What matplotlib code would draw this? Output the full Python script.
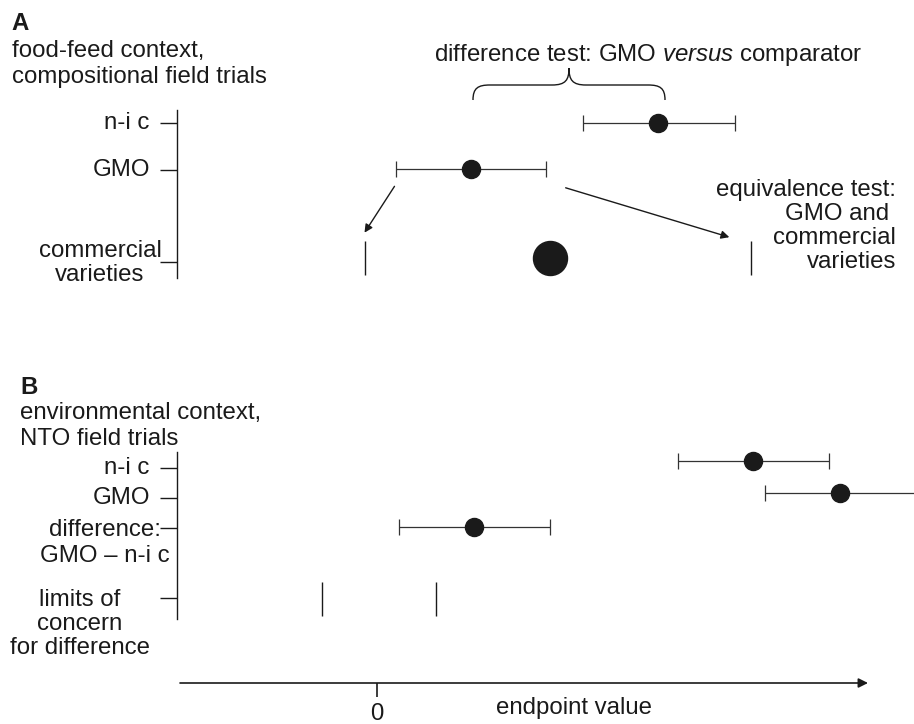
import matplotlib.pyplot as plt
from matplotlib.path import Path
from matplotlib.patches import PathPatch

plt.rcParams["font.family"] = ["Liberation Sans", "DejaVu Sans"]
plt.rcParams["mathtext.fontset"] = "custom"
plt.rcParams["mathtext.rm"] = "Liberation Sans"
plt.rcParams["mathtext.it"] = "Liberation Sans:italic"

INK = "#1a1a1a"
BAR = "#333333"
FS = 17.3
LS = 1.2

# panel A: food-feed context (endpoint value: lower, mean, upper)
a_labels = ["n-i c", "GMO", "commercial\nvarieties"]
a_nic = [4.12, 5.62, 7.16]
a_gmo = [0.38, 1.88, 3.38]
a_commercial_limits = [-0.24, 7.48]
a_commercial_mean = 3.46

# panel B: environmental context
b_labels = ["n-i c", "GMO", "difference:\nGMO \u2013 n-i c",
            "limits of\nconcern\nfor difference"]
b_nic = [6.02, 7.52, 9.04]
b_gmo = [7.76, 9.26, 10.8]
b_diff = [0.44, 1.94, 3.46]
b_limits = [-1.1, 1.18]


def px(x):
    # pixel column -> endpoint value (0 sits at column 377)
    return (x - 377) / 50


def interval(ax, vals, y):
    lo, mid, hi = vals
    ax.errorbar(mid, y, xerr=[[mid - lo], [hi - mid]], fmt="o", color=INK,
                ecolor=BAR, ms=13, capsize=6, elinewidth=0.9, capthick=0.9)


fig = plt.figure(figsize=(9.14, 7.24), dpi=100)
ax = fig.add_axes([0, 0, 1, 1])
ax.set_xlim(px(0), px(914))
ax.set_ylim(724, 0)
ax.axis("off")

# ---- panel A ----
ax.text(px(11), 23, "A", fontsize=FS, fontweight="bold", va="center", color=INK)
ax.text(px(12), 64, "food-feed context,\ncompositional field trials", fontsize=FS,
        va="center", color=INK, linespacing=LS)
ax.plot([px(177)] * 2, [110, 278], color=INK, lw=1)
a_y = [123, 170, 262]
ax.hlines(a_y, px(160), px(177), color=INK, lw=1)
ax.text(px(149), a_y[0], a_labels[0], fontsize=FS, ha="right", va="center", color=INK)
ax.text(px(150), a_y[1], a_labels[1], fontsize=FS, ha="right", va="center", color=INK)
ax.text(px(100), a_y[2] + 1, a_labels[2], fontsize=FS, ha="center", va="center",
        color=INK, linespacing=1.1)

interval(ax, a_nic, 123)
interval(ax, a_gmo, 169)
ax.vlines(a_commercial_limits, 241, 275, color=INK, lw=1)
ax.plot(a_commercial_mean, 258, "o", color=INK, ms=24.5)

ax.annotate("", xy=(px(363), 235), xytext=(a_gmo[0], 184),
            arrowprops=dict(arrowstyle="-|>", lw=1, color=INK, mutation_scale=12))
ax.annotate("", xy=(px(732), 238), xytext=(px(563), 187),
            arrowprops=dict(arrowstyle="-|>", lw=1, color=INK, mutation_scale=12))

# curly brace over the difference test
l, r, m = px(473), px(665), px(569)
d = px(490) - l
verts = [(l, 100), (l, 88), (l + d * 0.3, 85), (l + d, 85),
         (m - d, 85),
         (m - d * 0.2, 85), (m, 80), (m, 68),
         (m, 80), (m + d * 0.2, 85), (m + d, 85),
         (r - d, 85),
         (r - d * 0.3, 85), (r, 88), (r, 100)]
codes = [Path.MOVETO, Path.CURVE4, Path.CURVE4, Path.CURVE4,
         Path.LINETO,
         Path.CURVE4, Path.CURVE4, Path.CURVE4,
         Path.CURVE4, Path.CURVE4, Path.CURVE4,
         Path.LINETO,
         Path.CURVE4, Path.CURVE4, Path.CURVE4]
ax.add_patch(PathPatch(Path(verts, codes), fill=False, lw=1, ec=INK))
ax.text(px(648), 55, r"difference test: GMO $\it{versus}$ comparator", fontsize=FS,
        ha="center", va="center", color=INK)
ax.text(px(896), 226, "equivalence test:\nGMO and \ncommercial\nvarieties",
        fontsize=FS, ha="right", va="center", color=INK, linespacing=1.13)

# ---- panel B ----
ax.text(px(20), 387, "B", fontsize=FS, fontweight="bold", va="center", color=INK)
ax.text(px(20), 426, "environmental context,\nNTO field trials", fontsize=FS,
        va="center", color=INK, linespacing=LS)
ax.plot([px(177)] * 2, [452, 619], color=INK, lw=1)
b_y = [468, 498, 528, 598]
ax.hlines(b_y, px(160), px(177), color=INK, lw=1)
ax.text(px(149), b_y[0], b_labels[0], fontsize=FS, ha="right", va="center", color=INK)
ax.text(px(150), b_y[1], b_labels[1], fontsize=FS, ha="right", va="center", color=INK)
ax.text(px(105), 543, b_labels[2], fontsize=FS, ha="center", va="center",
        color=INK, linespacing=LS)
ax.text(px(80), 624, b_labels[3], fontsize=FS, ha="center", va="center",
        color=INK, linespacing=1.13)

interval(ax, b_nic, 461)
interval(ax, b_gmo, 493)
interval(ax, b_diff, 527)
ax.vlines(b_limits, 582, 616, color=INK, lw=1)

# endpoint value axis
ax.annotate("", xy=(px(868), 683), xytext=(px(180), 683),
            arrowprops=dict(arrowstyle="-|>", lw=1.2, color=INK, mutation_scale=14,
                            shrinkA=0, shrinkB=0))
ax.vlines(0, 683, 697, color=INK, lw=1.2)
ax.text(0, 714, "0", fontsize=FS, ha="center", va="center", color=INK)
ax.text(px(574), 708, "endpoint value", fontsize=FS, ha="center", va="center", color=INK)

fig.savefig("out.png", dpi=100)
